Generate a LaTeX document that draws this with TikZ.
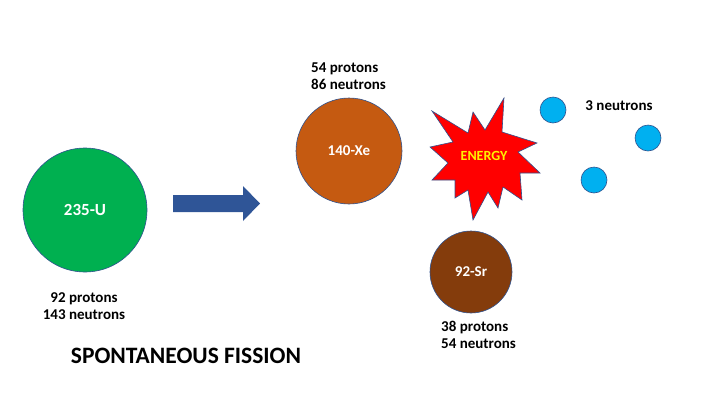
\documentclass[tikz,border=0pt]{standalone}
\usepackage{fontspec}
\setmainfont{Carlito}
\definecolor{uranium}{HTML}{00B050}
\definecolor{xenon}{HTML}{C55A11}
\definecolor{strontium}{HTML}{843C0C}
\definecolor{neutroncol}{HTML}{00B0F0}
\definecolor{edge}{HTML}{2F528F}
\definecolor{arrowcol}{HTML}{2F5597}
\begin{document}
\begin{tikzpicture}
  [x=1pt,y=-1pt,
   atom/.style={circle,draw=edge,line width=0.6pt,inner sep=0pt,text=white,font=\bfseries\fontsize{15}{17}\selectfont},
   neutron/.style={circle,draw=edge,line width=0.6pt,fill=neutroncol,minimum size=26pt,inner sep=0pt},
   info/.style={inner sep=0pt,font=\bfseries\fontsize{15}{17}\selectfont}]

  \useasboundingbox (0,0) rectangle (720,405);

  \node[atom,fill=uranium,minimum size=124pt] (U) at (85,210) {\fontsize{17}{20}\selectfont 235-U};
  \node[info,align=center] (Uinfo) at (84,306) {92 protons\\143 neutrons};

  \fill[arrowcol] (173,195) -- (243,195) -- (243,186) -- (260,203.5)
    -- (243,221) -- (243,212) -- (173,212) -- cycle;

  \node[atom,fill=xenon,minimum size=106pt] (Xe) at (349,151) {140-Xe};
  \node[info,align=left,anchor=west] (Xeinfo) at (311,76) {54 protons\\86 neutrons};

  \filldraw[fill=red,draw=edge,line width=0.6pt]
    (432,111) -- (468,133) -- (473,112) -- (485,130) -- (504,98) -- (502,132)
    -- (537,143) -- (518,152) -- (540,173) -- (520,173) -- (522,200) -- (503,187)
    -- (498,208) -- (488,192) -- (473,220) -- (468,190) -- (455,198) -- (455,180)
    -- (432,180) -- (448,163) -- (430,147) -- (453,142) -- cycle;
  \node[inner sep=0pt,text=yellow,font=\bfseries\fontsize{14}{16}\selectfont] (energy) at (484,156) {ENERGY};

  \node[neutron] (n1) at (553,110) {};
  \node[neutron] (n2) at (648,138) {};
  \node[neutron] (n3) at (594,180) {};
  \node[info] (ninfo) at (619,106) {3 neutrons};

  \node[atom,fill=strontium,minimum size=82pt] (Sr) at (471,272) {92-Sr};
  \node[info,align=left,anchor=west] (Srinfo) at (441,335) {38 protons\\54 neutrons};

  \node[inner sep=0pt,font=\bfseries\fontsize{23.5}{28}\selectfont] (title) at (186,356) {SPONTANEOUS FISSION};
\end{tikzpicture}
\end{document}
